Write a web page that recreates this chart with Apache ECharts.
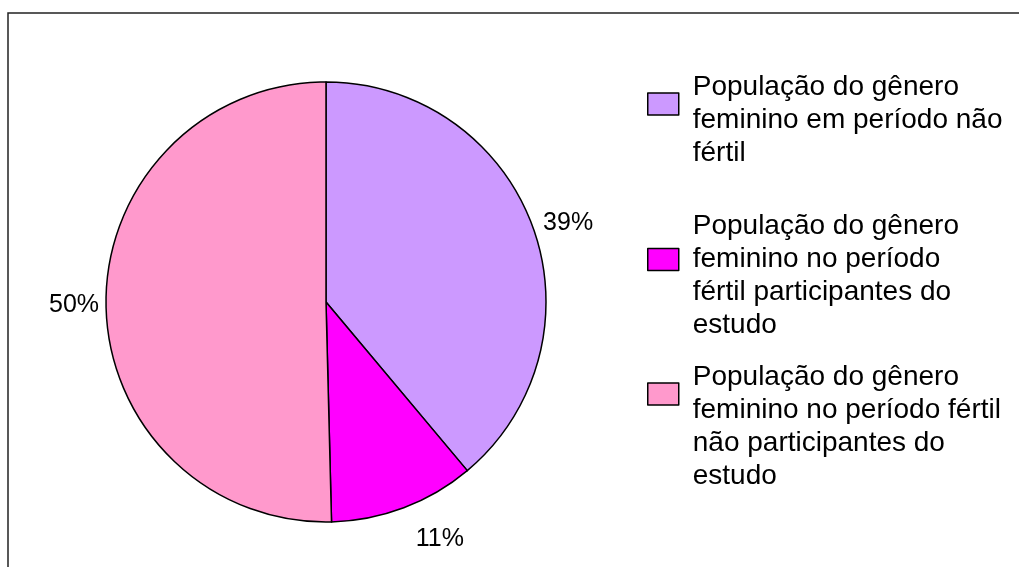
<!DOCTYPE html>
<html>
<head>
<meta charset="utf-8">
<title>População do gênero feminino</title>
<script src="https://cdn.jsdelivr.net/npm/echarts@6/dist/echarts.min.js"></script>
<style>
  html, body { margin: 0; padding: 0; background: #fff; }
  #main { width: 1019px; height: 567px; }
</style>
</head>
<body>
<div id="main"></div>
<script>
// categorias (com quebras de linha como na legenda original)
var categories = [
    'População do gênero\nfeminino em período não\nfértil',
    'População do gênero\nfeminino no período\nfértil participantes do\nestudo',
    'População do gênero\nfeminino no período fértil\nnão participantes do\nestudo'
];
var values = [38.9, 10.7, 50.4];                  // percentuais
var colors = ['#CC99FF', '#FF00FF', '#FF99CC'];   // cores das fatias
var labelLen = [11, 34, 7];                       // distância dos rótulos
var legendTop = [38, 177, 295];                   // posição de cada item da legenda
var legendShift = [1, 1, 2];                      // linhas vazias acima do texto (alinha o ícone)

var chart = echarts.init(document.getElementById('main'));

var seriesData = [];
for (var i = 0; i < categories.length; i++) {
    seriesData.push({
        name: categories[i],
        value: values[i],
        itemStyle: { color: colors[i] },
        labelLine: { length: labelLen[i], length2: 0 }
    });
}

function makeFormatter(k) {
    return function (name) {
        var pre = '';
        for (var n = 0; n < k; n++) pre += '\n';
        return pre + name;
    };
}

var legends = [];
for (var j = 0; j < categories.length; j++) {
    legends.push({
        orient: 'vertical',
        left: 647,
        top: legendTop[j],
        padding: 0,
        itemWidth: 31,
        itemHeight: 22,
        icon: 'rect',
        selectedMode: false,
        data: [categories[j]],
        formatter: makeFormatter(legendShift[j]),
        itemStyle: { borderColor: '#000', borderWidth: 1.5 },
        textStyle: {
            fontFamily: 'Liberation Sans, Arial, sans-serif',
            fontSize: 28,
            lineHeight: 33,
            color: '#000',
            padding: [0, 0, 0, 9]
        }
    });
}

var option = {
    animation: false,
    backgroundColor: '#fff',
    graphic: [{
        type: 'rect',
        shape: { x: 8, y: 13, width: 1100, height: 700 },
        style: { fill: 'none', stroke: '#222', lineWidth: 1.5 },
        silent: true
    }],
    legend: legends,
    series: [{
        type: 'pie',
        center: [326, 302],
        radius: 220,
        startAngle: 90,
        clockwise: true,
        avoidLabelOverlap: false,
        data: seriesData,
        itemStyle: { borderColor: '#000', borderWidth: 1.5 },
        emphasis: { disabled: true },
        label: {
            show: true,
            position: 'outside',
            distanceToLabelLine: 0,
            fontFamily: 'Liberation Sans, Arial, sans-serif',
            fontSize: 25,
            color: '#000',
            formatter: function (p) {
                return Math.round(p.percent) + '%';
            }
        },
        labelLine: { show: false }
    }]
};

chart.setOption(option);
</script>
</body>
</html>
